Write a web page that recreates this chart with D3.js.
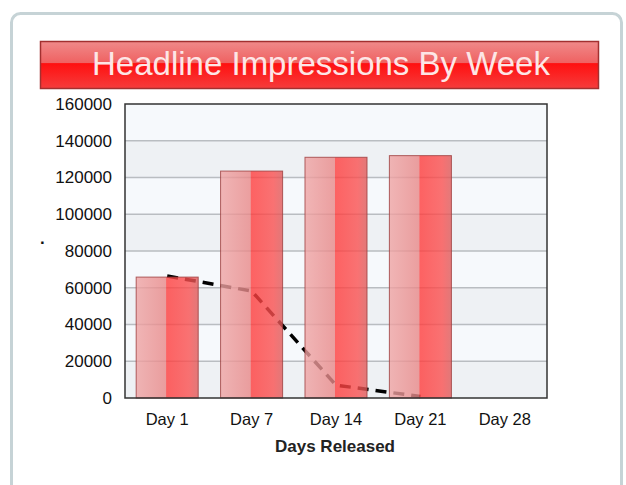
<!DOCTYPE html>
<html>
<head>
<meta charset="utf-8">
<script src="https://cdn.jsdelivr.net/npm/d3@7"></script>
<style>
  body { margin: 0; background: #fff; }
  svg { display: block; font-family: "Liberation Sans", Arial, sans-serif; }
</style>
</head>
<body>
<div id="chart"></div>
<script>
var categories = ["Day 1", "Day 7", "Day 14", "Day 21", "Day 28"];
var impressions = [65800, 123500, 131000, 131900, null];
var trend = [66400, 58200, 7000, 800, null];
var yTicks = [0, 20000, 40000, 60000, 80000, 100000, 120000, 140000, 160000];
var chartTitle = "Headline Impressions By Week";
var xTitle = "Days Released";

var width = 626, height = 485;
var plot = {left: 125, top: 104, right: 547, bottom: 398};

var svg = d3.select("#chart").append("svg")
    .attr("width", width)
    .attr("height", height);

var defs = svg.append("defs");

// bar gradient, light left half and red right half
var barGrad = defs.append("linearGradient").attr("id", "barGrad")
    .attr("x1", "0").attr("x2", "1").attr("y1", "0").attr("y2", "0");
barGrad.append("stop").attr("offset", "0%").attr("stop-color", "#efa4a4");
barGrad.append("stop").attr("offset", "48%").attr("stop-color", "#e88888");
barGrad.append("stop").attr("offset", "49%").attr("stop-color", "#ff3c3c");
barGrad.append("stop").attr("offset", "85%").attr("stop-color", "#fa5050");
barGrad.append("stop").attr("offset", "100%").attr("stop-color", "#de5a5a");

// title banner gradient
var titleGrad = defs.append("linearGradient").attr("id", "titleGrad")
    .attr("x1", "0").attr("x2", "0").attr("y1", "0").attr("y2", "1");
titleGrad.append("stop").attr("offset", "0%").attr("stop-color", "#f08a8a");
titleGrad.append("stop").attr("offset", "45%").attr("stop-color", "#ef6262");
titleGrad.append("stop").attr("offset", "47%").attr("stop-color", "#ff1010");
titleGrad.append("stop").attr("offset", "100%").attr("stop-color", "#f63c3c");

// outer panel
svg.append("rect")
    .attr("x", 11.5).attr("y", 13.5)
    .attr("width", 610).attr("height", 485)
    .attr("rx", 9)
    .attr("fill", "#fff")
    .attr("stroke", "#c6d3d6")
    .attr("stroke-width", 3);

// title banner
svg.append("rect")
    .attr("x", 40.5).attr("y", 41.5)
    .attr("width", 558).attr("height", 47)
    .attr("fill", "url(#titleGrad)")
    .attr("stroke", "#a33030")
    .attr("stroke-width", 1.5);

svg.append("text")
    .attr("x", 321).attr("y", 75)
    .attr("text-anchor", "middle")
    .attr("font-size", 33)
    .attr("fill", "#fde6e6")
    .text(chartTitle);

// Scales
var x = d3.scaleBand()
    .domain(categories)
    .range([plot.left, plot.right])
    .paddingInner(0.265)
    .paddingOuter(0.1325);

var y = d3.scaleLinear()
    .domain([0, 160000])
    .range([plot.bottom, plot.top]);

// alternating bands
var bands = d3.pairs(yTicks);
svg.append("g").selectAll("rect")
    .data(bands)
  .enter().append("rect")
    .attr("x", plot.left)
    .attr("y", function(d) { return y(d[1]); })
    .attr("width", plot.right - plot.left)
    .attr("height", function(d) { return y(d[0]) - y(d[1]); })
    .attr("fill", function(d, i) { return i % 2 === 0 ? "#eef1f4" : "#f6f9fc"; });

// gridlines
svg.append("g").selectAll("line")
    .data(yTicks.slice(1, -1))
  .enter().append("line")
    .attr("x1", plot.left).attr("x2", plot.right)
    .attr("y1", function(d) { return y(d); })
    .attr("y2", function(d) { return y(d); })
    .attr("stroke", "#b9bdc1")
    .attr("stroke-width", 1.5);

// trend line (under the bars)
var line = d3.line()
    .defined(function(d) { return d != null; })
    .x(function(d, i) { return x(categories[i]) + x.bandwidth() / 2; })
    .y(function(d) { return y(d); });

svg.append("path")
    .datum(trend)
    .attr("d", line)
    .attr("fill", "none")
    .attr("stroke", "#000")
    .attr("stroke-width", 3.5)
    .attr("stroke-dasharray", "11,7");

// bars
svg.append("g").selectAll("rect")
    .data(impressions.map(function(v, i) { return {cat: categories[i], value: v}; })
      .filter(function(d) { return d.value != null; }))
  .enter().append("rect")
    .attr("x", function(d) { return x(d.cat); })
    .attr("y", function(d) { return y(d.value); })
    .attr("width", x.bandwidth())
    .attr("height", function(d) { return y(0) - y(d.value); })
    .attr("fill", "url(#barGrad)")
    .attr("fill-opacity", 0.8)
    .attr("stroke", "#9c3c3c")
    .attr("stroke-opacity", 0.8)
    .attr("stroke-width", 1);

// frame
svg.append("rect")
    .attr("x", plot.left).attr("y", plot.top)
    .attr("width", plot.right - plot.left)
    .attr("height", plot.bottom - plot.top)
    .attr("fill", "none")
    .attr("stroke", "#333")
    .attr("stroke-width", 1.5);

// y axis
var yAxis = svg.append("g")
    .attr("transform", "translate(" + plot.left + ",0)")
    .call(d3.axisLeft(y).tickValues(yTicks).tickSize(0).tickPadding(13).tickFormat(d3.format("d")));
yAxis.select(".domain").remove();
yAxis.selectAll("text")
    .attr("font-size", 17)
    .attr("font-family", "Liberation Sans, Arial, sans-serif")
    .attr("fill", "#111");

// x axis
var xAxis = svg.append("g")
    .attr("transform", "translate(0," + plot.bottom + ")")
    .call(d3.axisBottom(x).tickSize(0).tickPadding(15));
xAxis.select(".domain").remove();
xAxis.selectAll("text")
    .attr("font-size", 16.5)
    .attr("font-family", "Liberation Sans, Arial, sans-serif")
    .attr("fill", "#111");

// axis titles
svg.append("text")
    .attr("x", 335).attr("y", 452)
    .attr("text-anchor", "middle")
    .attr("font-size", 17)
    .attr("font-weight", "bold")
    .attr("fill", "#222")
    .text(xTitle);

svg.append("text")
    .attr("x", 40).attr("y", 244)
    .attr("font-size", 17)
    .attr("font-weight", "bold")
    .attr("fill", "#111")
    .text(".");
</script>
</body>
</html>
